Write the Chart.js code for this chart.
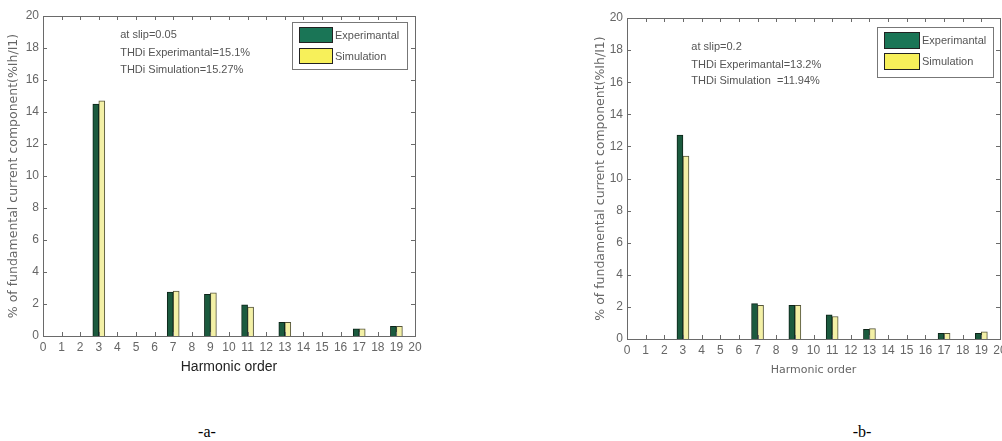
<!DOCTYPE html>
<html>
<head>
<meta charset="utf-8">
<script src="https://cdn.jsdelivr.net/npm/chart.js@4.4.1/dist/chart.umd.min.js"></script>
<style>
    body { margin: 0; background: #fff; width: 1002px; height: 441px; overflow: hidden; position: relative; }
    .panel { position: absolute; top: 0; height: 380px; }
    .cap { position: absolute; top: 423px; font: 16px "Liberation Serif", "Times New Roman", serif; color: #000; transform: translateX(-50%); }
</style>
</head>
<body>
<div class="panel" style="left:0;width:430px"><canvas id="chart-a"></canvas></div>
<div class="panel" style="left:580px;width:422px"><canvas id="chart-b"></canvas></div>
<div class="cap" style="left:207px">-a-</div>
<div class="cap" style="left:862px">-b-</div>
<script>
const SANS = '"Liberation Sans", Arial, sans-serif';
const WIDE = '"DejaVu Sans", sans-serif';

// harmonic orders that carry bars
const orders = [3, 7, 9, 11, 13, 17, 19];

// -a- slip 0.05
const expA = [14.5, 2.75, 2.6, 1.95, 0.85, 0.45, 0.6];
const simA = [14.7, 2.8, 2.7, 1.8, 0.85, 0.45, 0.6];
const notesA = ["at slip=0.05", "THDi Experimantal=15.1%", "THDi Simulation=15.27%"];

// -b- slip 0.2
const expB = [12.7, 2.2, 2.1, 1.5, 0.6, 0.35, 0.35];
const simB = [11.4, 2.1, 2.1, 1.4, 0.65, 0.35, 0.45];
const notesB = ["at slip=0.2", "THDi Experimantal=13.2%", "THDi Simulation  =11.94%"];

const seriesNames = ["Experimantal", "Simulation"];
const yTitle = "% of fundamental current component(%Ih/I1)";
const xTitle = "Harmonic order";

// matlab-ish box: frame, inward ticks on all sides, text notes and legend
const matlabFrame = {
    id: "matlabFrame",
    afterDatasetsDraw(chart, args, o) {
        const {ctx, chartArea: a, scales: {x, y}} = chart;
        ctx.save();
        ctx.strokeStyle = "#6a6a6a";
        ctx.lineWidth = 1;
        ctx.strokeRect(a.left + 0.5, a.top + 0.5, a.right - a.left, a.bottom - a.top);
        ctx.beginPath();
        x.ticks.forEach(t => {
            const px = Math.round(x.getPixelForValue(t.value)) + 0.5;
            ctx.moveTo(px, a.bottom); ctx.lineTo(px, a.bottom - 4);
            ctx.moveTo(px, a.top); ctx.lineTo(px, a.top + 4);
        });
        y.ticks.forEach(t => {
            const py = Math.round(y.getPixelForValue(t.value)) + 0.5;
            ctx.moveTo(a.left, py); ctx.lineTo(a.left + 4, py);
            ctx.moveTo(a.right, py); ctx.lineTo(a.right - 4, py);
        });
        ctx.stroke();

        ctx.fillStyle = "#555";
        ctx.font = "11px " + SANS;
        ctx.textBaseline = "middle";
        o.notes.forEach((line, i) => {
            ctx.fillText(line, x.getPixelForValue(o.noteX), y.getPixelForValue(o.noteY[i]));
        });

        const L = o.legend;
        const bx = a.right - L.right - L.w, by = a.top + L.top;
        ctx.fillStyle = "#fff";
        ctx.fillRect(bx, by, L.w, L.h);
        ctx.strokeStyle = "#777";
        ctx.strokeRect(bx + 0.5, by + 0.5, L.w, L.h);
        chart.data.datasets.forEach((ds, i) => {
            const sy = by + L.pad + i * L.gap;
            ctx.fillStyle = L.colors[i];
            ctx.fillRect(bx + L.pad + 2, sy, L.sw, L.sh);
            ctx.strokeStyle = "#222";
            ctx.strokeRect(bx + L.pad + 2.5, sy + 0.5, L.sw, L.sh);
            ctx.fillStyle = "#555";
            ctx.fillText(ds.label, bx + L.pad + L.sw + 5, sy + L.sh / 2 + 1);
        });
        ctx.restore();
    }
};

function makeChart(id, exp, sim, opts) {
    const ctx = document.getElementById(id).getContext("2d");
    return new Chart(ctx, {
        type: "bar",
        data: {
            datasets: [
                {
                    label: seriesNames[0],
                    data: orders.map((h, i) => ({x: h, y: exp[i]})),
                    backgroundColor: "#1b5a3e",
                    borderColor: "#0d2419",
                    borderWidth: 1
                },
                {
                    label: seriesNames[1],
                    data: orders.map((h, i) => ({x: h, y: sim[i]})),
                    backgroundColor: "#f3f0a6",
                    borderColor: "#55553a",
                    borderWidth: 1
                },
            ],
        },
        options: {
            responsive: true,
            maintainAspectRatio: false,
            animation: false,
            barThickness: 6,
            layout: {padding: opts.padding},
            scales: {
                x: {
                    type: "linear",
                    offset: false,
                    min: 0,
                    max: 20,
                    grid: {display: false, drawTicks: false, offset: false},
                    border: {display: false},
                    ticks: {stepSize: 1, autoSkip: false, maxRotation: 0, padding: 4, color: "#666", font: {family: SANS, size: 12}},
                    title: {display: true, text: xTitle, color: opts.xTitleColor, font: opts.xTitleFont, padding: {top: 0, bottom: opts.xTitlePad}},
                    afterFit: (s) => { s.height = opts.xHeight; s.paddingLeft = 0; s.paddingRight = 0; }
                },
                y: {
                    min: 0,
                    max: 20,
                    grid: {display: false, drawTicks: false},
                    border: {display: false},
                    ticks: {stepSize: 2, padding: 4, color: "#666", font: {family: SANS, size: 12}},
                    title: {display: true, text: yTitle, color: "#666", font: {family: WIDE, size: 12.5}, padding: {top: opts.yTitlePad, bottom: 0}},
                    afterFit: (s) => { s.width = opts.yWidth; }
                },
            },
            plugins: {
                legend: {display: false},
                tooltip: {enabled: false},
                matlabFrame: {
                    notes: opts.notes,
                    noteX: opts.noteX,
                    noteY: opts.noteY,
                    legend: opts.legend
                },
            },
        },
        plugins: [matlabFrame],
    });
}

makeChart("chart-a", expA, simA, {
    padding: {left: 0, top: 16, right: 15, bottom: 0},
    yWidth: 43, xHeight: 44, yTitlePad: 6, xTitlePad: 4,
    xTitleColor: "#222", xTitleFont: {family: SANS, size: 14},
    notes: notesA, noteX: 4.15, noteY: [18.8, 17.7, 16.6],
    legend: {right: 8, top: 6, w: 115, h: 47, pad: 5, gap: 21, sw: 33, sh: 15, colors: ["#1a7556", "#f7f05a"]}
});

makeChart("chart-b", expB, simB, {
    padding: {left: 0, top: 18, right: 2, bottom: 0},
    yWidth: 47, xHeight: 41, yTitlePad: 13, xTitlePad: 3,
    xTitleColor: "#666", xTitleFont: {family: WIDE, size: 11},
    notes: notesB, noteX: 3.45, noteY: [18.2, 17.1, 16.1],
    legend: {right: 7, top: 9, w: 116, h: 50, pad: 5, gap: 21, sw: 35, sh: 16, colors: ["#1a7556", "#f7f05a"]}
});
</script>
</body>
</html>
